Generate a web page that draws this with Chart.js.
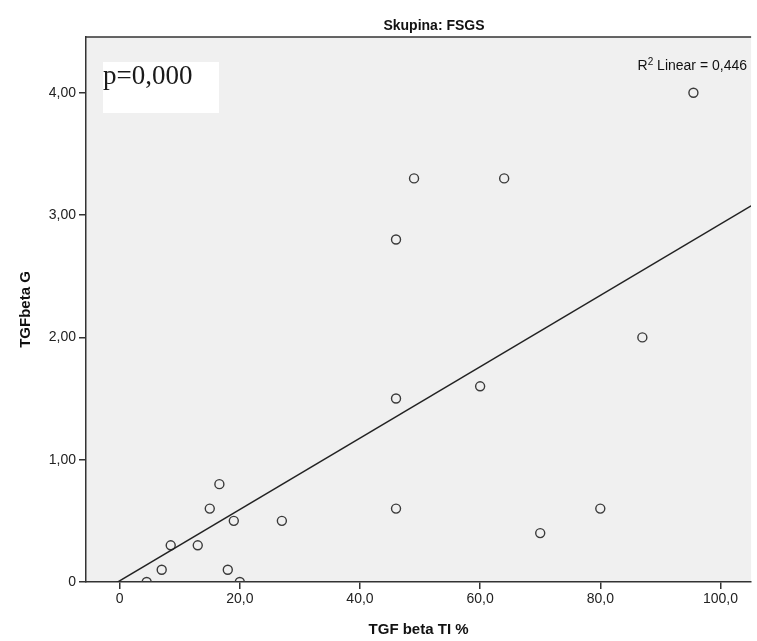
<!DOCTYPE html>
<html>
<head>
<meta charset="utf-8">
<script src="https://cdn.jsdelivr.net/npm/chart.js@4.4.1/dist/chart.umd.min.js"></script>
<style>
  html, body { margin: 0; padding: 0; background: #fff; }
  #wrap { width: 757px; height: 641px; }
</style>
</head>
<body>
<div id="wrap"><canvas id="chart" width="757" height="641"></canvas></div>
<script>
// TGF beta TI % (x) vs TGFbeta G (y), group FSGS
const tgfTI = [95.5, 49, 64, 46, 87, 60, 46, 46, 80, 70, 27, 16.6, 15, 19, 8.5, 13, 7, 18, 4.5, 20];
const tgfG  = [4.0, 3.3, 3.3, 2.8, 2.0, 1.6, 1.5, 0.6, 0.6, 0.4, 0.5, 0.8, 0.6, 0.5, 0.3, 0.3, 0.1, 0.1, 0, 0];

const xTicks = [0, 20, 40, 60, 80, 100];
const xTickLabels = ["0", "20,0", "40,0", "60,0", "80,0", "100,0"];
const yTicks = [0, 1, 2, 3, 4];
const yTickLabels = ["0", "1,00", "2,00", "3,00", "4,00"];

const titleText = "Skupina: FSGS";
const pValueText = "p=0,000";
const r2Text = "0,446";

const X_MIN = -5.6, X_MAX = 105.1;
const Y_MIN = 0, Y_MAX = 4.456;

// least squares fit line
const n = tgfTI.length;
const mx = tgfTI.reduce((a, b) => a + b, 0) / n;
const my = tgfG.reduce((a, b) => a + b, 0) / n;
let sxy = 0, sxx = 0;
for (let i = 0; i < n; i++) {
    sxy += (tgfTI[i] - mx) * (tgfG[i] - my);
    sxx += (tgfTI[i] - mx) * (tgfTI[i] - mx);
}
const slope = sxy / sxx;
const intercept = my - slope * mx;
const fitLine = [X_MIN, X_MAX].map(x => ({ x: x, y: intercept + slope * x }));

const points = tgfTI.map((x, i) => ({ x: x, y: tgfG[i] }));

const axisColor = "#333";

const plotDecor = {
    id: "plotDecor",
    beforeDraw(chart) {
        const { ctx, chartArea } = chart;
        ctx.save();
        ctx.fillStyle = "#f0f0f0";
        ctx.fillRect(chartArea.left, chartArea.top, chartArea.right - chartArea.left, chartArea.bottom - chartArea.top);
        ctx.restore();
    },
    afterDraw(chart) {
        const { ctx, chartArea } = chart;
        ctx.save();
        // top frame line
        ctx.strokeStyle = axisColor;
        ctx.lineWidth = 1.5;
        ctx.beginPath();
        ctx.moveTo(chartArea.left, chartArea.top);
        ctx.lineTo(chartArea.right, chartArea.top);
        ctx.stroke();

        // chart title
        ctx.fillStyle = "#111";
        ctx.font = "bold 14px 'Liberation Sans'";
        ctx.textAlign = "center";
        ctx.textBaseline = "middle";
        ctx.fillText(titleText, 434, 26);

        // p value box
        ctx.fillStyle = "#fff";
        ctx.fillRect(103, 62, 116, 51);
        ctx.fillStyle = "#1a1a1a";
        ctx.font = "27px 'Liberation Serif'";
        ctx.textAlign = "left";
        ctx.textBaseline = "alphabetic";
        ctx.fillText(pValueText, 103, 84);

        // R2 label
        const right = 747, base = 70;
        ctx.fillStyle = "#111";
        ctx.font = "14px 'Liberation Sans'";
        ctx.textAlign = "right";
        const tail = " Linear = " + r2Text;
        ctx.fillText(tail, right, base);
        const w1 = ctx.measureText(tail).width;
        ctx.font = "10px 'Liberation Sans'";
        ctx.fillText("2", right - w1, base - 5);
        const w2 = ctx.measureText("2").width;
        ctx.font = "14px 'Liberation Sans'";
        ctx.fillText("R", right - w1 - w2, base);
        ctx.restore();
    }
};

new Chart(document.getElementById("chart"), {
    type: "scatter",
    data: {
        datasets: [
            {
                type: "line",
                data: fitLine,
                borderColor: "#222",
                borderWidth: 1.5,
                pointRadius: 0,
                fill: false,
                clip: 0
            },
            {
                data: points,
                pointRadius: 4.5,
                borderWidth: 1.4,
                borderColor: "#3a3a3a",
                backgroundColor: "rgba(0,0,0,0)",
                clip: 0
            }
        ]
    },
    options: {
        responsive: false,
        animation: false,
        events: [],
        layout: { padding: { top: 37, left: 0, right: 0, bottom: 0 } },
        plugins: {
            legend: { display: false },
            tooltip: { enabled: false },
            title: { display: false }
        },
        scales: {
            x: {
                type: "linear",
                min: X_MIN,
                max: X_MAX,
                afterBuildTicks: s => { s.ticks = xTicks.map(v => ({ value: v })); },
                afterFit: s => { s.height = 59; },
                ticks: {
                    callback: v => xTickLabels[xTicks.indexOf(v)],
                    color: "#222",
                    font: { family: "Liberation Sans", size: 14 },
                    padding: 2,
                    maxRotation: 0,
                    autoSkip: false
                },
                grid: { drawOnChartArea: false, drawTicks: true, tickLength: 7, color: axisColor, lineWidth: 1.5 },
                border: { display: true, color: axisColor, width: 1.5 },
                title: {
                    display: true,
                    text: "TGF beta TI %",
                    color: "#111",
                    font: { family: "Liberation Sans", size: 15, weight: "bold" },
                    padding: { top: 0, bottom: 2 }
                }
            },
            y: {
                type: "linear",
                min: Y_MIN,
                max: Y_MAX,
                afterBuildTicks: s => { s.ticks = yTicks.map(v => ({ value: v })); },
                afterFit: s => { s.width = 86; },
                ticks: {
                    callback: v => yTickLabels[yTicks.indexOf(v)],
                    color: "#222",
                    font: { family: "Liberation Sans", size: 14 },
                    padding: 3
                },
                grid: { drawOnChartArea: false, drawTicks: true, tickLength: 7, color: axisColor, lineWidth: 1.5 },
                border: { display: true, color: axisColor, width: 1.5 },
                title: {
                    display: true,
                    text: "TGFbeta G",
                    color: "#111",
                    font: { family: "Liberation Sans", size: 15, weight: "bold" },
                    padding: { top: 17, bottom: 0 }
                }
            }
        }
    },
    plugins: [plotDecor]
});
</script>
</body>
</html>
